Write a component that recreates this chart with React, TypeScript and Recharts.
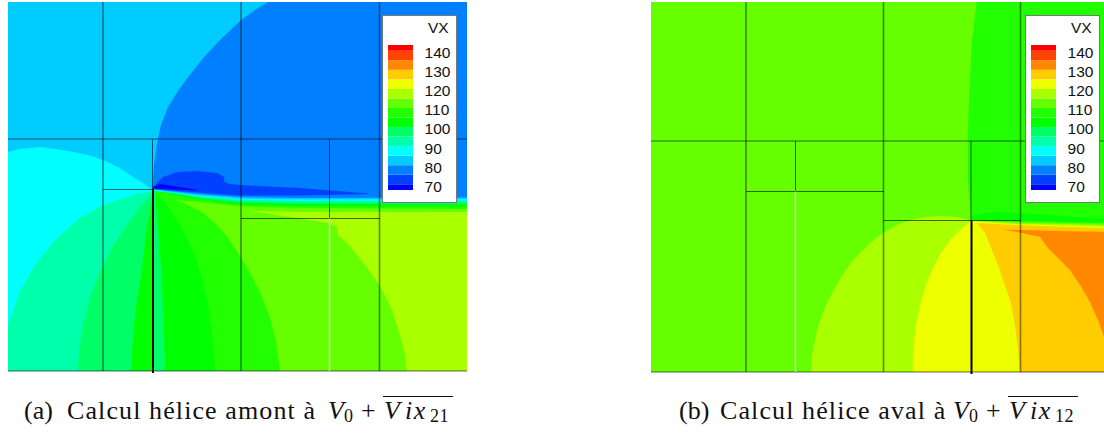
import React from "react";
import { Area, Bar, BarChart, ComposedChart, ReferenceLine, XAxis, YAxis } from "recharts";

type Row = number[]; // [x, upper contour, lower contour]

const C = {
  navy: "#0000ff", royal: "#0040ff", azure: "#0080ff", sky: "#00ccff", cyan: "#00ffff",
  aqua: "#00ffaa", mint: "#00ff66", green: "#00ff00", leaf: "#22ff00", grass: "#66ff00",
  lime: "#aaff00", yellow: "#eeff00", amber: "#ffcc00", orange: "#ff8800", vermilion: "#ff4400", red: "#ff0000",
};

// Legend
const LEVEL_COLORS = [C.navy, C.royal, C.azure, C.sky, C.cyan, C.aqua, C.mint, C.green, C.leaf, C.grass, C.lime, C.yellow, C.amber, C.orange, C.vermilion, C.red];
const LEVEL_SIZES = [71, 5, 5, 5, 5, 5, 5, 5, 5, 5, 5, 5, 5, 5, 5, 3];
const LEVEL_TICKS = [70, 80, 90, 100, 110, 120, 130, 140];

// Panel (a) contours
const A_BG: Row[] = [[8, 2, 371], [467, 2, 371]];
const A_AZURE: Row[] = [[152.7, 189, 212], [154, 165, 212], [157, 143, 212], [161, 125, 212], [168, 107, 212], [180, 88, 212], [192, 72, 212], [205, 56, 212], [220, 40, 212], [240, 21, 212], [255, 10, 212], [268, 2, 212], [467, 2, 212]];
const A_CYAN: Row[] = [[8, 152, 371], [20, 149, 371], [40, 147, 371], [56, 149, 371], [73, 152, 371], [88, 155, 371], [103, 160, 371], [118, 167, 371], [133, 177, 371], [143, 183, 371], [153, 190, 371]];
const A_AQUA: Row[] = [[8, 325, 371], [20, 292, 371], [35, 265, 371], [57, 238, 371], [80, 218, 371], [103, 205, 371], [133, 195, 371], [153, 191, 371]];
const A_MINT_L: Row[] = [[78, 371, 371], [79, 350, 371], [83, 325, 371], [90, 297, 371], [100, 272, 371], [113, 247, 371], [127, 225, 371], [140, 207, 371], [153, 193, 371]];
const A_GREEN_L: Row[] = [[131, 371, 371], [132, 350, 371], [134, 325, 371], [137, 300, 371], [141, 275, 371], [146, 235, 371], [153, 193, 371]];
const W_SKY: Row[] = [[153, 189, 371], [175, 191.5, 371], [197, 194, 371], [240, 197, 371], [300, 198, 371], [467, 197.5, 371]];
const W_CYAN: Row[] = [[153, 189.5, 371], [175, 192.5, 371], [197, 195, 371], [240, 198.7, 371], [300, 199.5, 371], [467, 199, 371]];
const W_AQUA: Row[] = [[153, 190, 371], [175, 193, 371], [197, 196, 371], [240, 200, 371], [300, 201, 371], [467, 200.7, 371]];
const W_MINT: Row[] = [[153, 190.5, 371], [175, 193.5, 371], [197, 197, 371], [240, 201.3, 371], [300, 202.5, 371], [467, 202.3, 371]];
const W_GREEN: Row[] = [[153, 191, 371], [175, 194, 371], [197, 198, 371], [240, 202.7, 371], [300, 204, 371], [467, 204, 371]];
const W_LEAF: Row[] = [[153, 191.5, 371], [175, 195, 371], [197, 199, 371], [240, 204.3, 371], [300, 206, 371], [467, 206.5, 371]];
const A_GRASS: Row[] = [[177, 200, 200], [190, 201.3, 206], [203, 202.6, 213], [215, 203.8, 223], [228, 205.1, 238], [240, 206.3, 256], [253, 206.8, 278], [262, 207, 297], [270, 207.2, 318], [276, 207.4, 342], [280, 207.5, 371], [300, 208, 371], [467, 209, 371]];
const A_LIME: Row[] = [[250, 211, 211], [290, 211.8, 217], [328, 212, 223], [337, 212, 227], [338, 212, 235], [350, 212, 246], [365, 212, 265], [380, 212, 286], [392, 212, 310], [400, 212, 335], [405, 212, 355], [406.7, 212, 371], [467, 212, 371]];
const A_GREEN_R: Row[] = [[155, 192, 192], [157, 193, 215], [158, 194.5, 225], [160, 197, 252], [162, 199.5, 285], [164, 202, 330], [165, 203, 371], [170, 210, 371], [180, 225, 371], [190, 245, 371], [197, 262, 371], [203, 283, 371], [208, 305, 371], [212, 335, 371], [215, 371, 371]];
const A_MINT_R: Row[] = [[153, 191, 371], [155, 192, 371], [157, 215, 371], [158, 225, 371], [160, 252, 371], [162, 285, 371], [164, 330, 371], [165, 371, 371]];
const A_ROYAL: Row[] = [[153, 187, 189], [163, 177, 190], [177, 172, 191], [197, 171, 192.5], [217, 173, 194], [224, 177, 194.5], [224.5, 182, 194.5], [230, 184, 195], [240, 185, 195.5], [300, 188, 195.5], [368, 193.5, 194]];
const A_NAVY: Row[] = [[153, 187, 188.5], [160, 184, 189], [173, 186, 189.5], [198, 190, 190.5]];

// Panel (b) contours
const B_BG: Row[] = [[651, 2, 372], [1104, 2, 372]];
const B_LEAF: Row[] = [[967.7, 141, 141], [968, 130, 180], [969, 100, 193], [971, 58, 220], [971.7, 43, 220.5], [976.7, 2, 221], [1104, 2, 224]];
const B_GREEN: Row[] = [[971, 216, 219.5], [993, 212, 220], [1020, 213, 220.7], [1104, 219, 222]];
const B_GRASS: Row[] = [[971, 220.5, 372], [1020, 222, 372], [1104, 223.5, 372]];
const B_LIME: Row[] = [[811, 372, 372], [812, 355, 372], [817, 330, 372], [823, 312, 372], [830, 297, 372], [841, 277, 372], [853, 260, 372], [870, 243, 372], [883, 233, 372], [897, 225, 372], [910, 220, 372], [925, 217, 372], [941.7, 216, 372], [957, 217, 372], [971, 220.5, 372], [1020, 223.3, 372], [1104, 225, 372]];
const B_YELLOW: Row[] = [[912.7, 372, 372], [913, 350, 372], [916, 325, 372], [920, 305, 372], [926, 285, 372], [933, 268, 372], [941, 253, 372], [950, 240, 372], [960, 230, 372], [971, 221, 372], [1020, 224.3, 372], [1104, 226.7, 372]];
const B_AMBER: Row[] = [[976.7, 223, 223], [985, 223.5, 233], [991, 223.8, 248], [998, 224.2, 265], [1004, 224.5, 283], [1010, 224.8, 300], [1015, 225, 325], [1018, 225.2, 350], [1020, 225.3, 372], [1104, 228.3, 372]];
const B_ORANGE: Row[] = [[1003, 229.5, 229.5], [1020, 230, 232.5], [1040, 230.5, 237], [1043, 230.6, 241], [1047, 230.7, 247], [1058, 231, 258], [1070, 231.2, 270], [1080, 231.4, 285], [1090, 231.6, 302], [1098, 231.8, 320], [1104, 232, 337]];

// Mesh block edges: [x1, y1, x2, y2]
const A_THIN: Row[] = [[8, 139, 467, 139], [152.5, 139, 152.5, 189], [103, 189.5, 153, 189.5], [329.5, 139, 329.5, 218], [241, 218.5, 380, 218.5], [8, 371, 467, 371]];
const A_WIDE: Row[] = [[103, 2, 103, 371], [241, 2, 241, 371], [379.5, 2, 379.5, 371]];
const A_GAP: Row[] = [[329.5, 218.5, 329.5, 371]];
const A_WALL: Row[] = [[153, 189, 153, 373]];
const B_THIN: Row[] = [[651, 141, 1104, 141], [795.5, 141, 795.5, 191], [746, 191.5, 884, 191.5], [971, 141, 971, 220], [883.5, 220.5, 1021, 220.5], [651, 372, 1104, 372]];
const B_WIDE: Row[] = [[746, 2, 746, 372], [883.5, 2, 883.5, 372], [1020.5, 2, 1020.5, 372]];
const B_GAP: Row[] = [[795.5, 191.5, 795.5, 372]];
const B_WALL: Row[] = [[971.5, 220, 971.5, 374]];

const PANEL_A: [Row[], string][] = [
  [A_BG, C.sky], [A_AZURE, C.azure], [A_CYAN, C.cyan], [A_AQUA, C.aqua], [A_MINT_L, C.mint], [A_GREEN_L, C.green],
  [W_SKY, C.sky], [W_CYAN, C.cyan], [W_AQUA, C.aqua], [W_MINT, C.mint], [W_GREEN, C.green], [W_LEAF, C.leaf],
  [A_GRASS, C.grass], [A_LIME, C.lime], [A_GREEN_R, C.green], [A_MINT_R, C.mint], [A_ROYAL, C.royal], [A_NAVY, C.navy],
];
const PANEL_B: [Row[], string][] = [
  [B_BG, C.grass], [B_LEAF, C.leaf], [B_GREEN, C.green], [B_GRASS, C.grass], [B_LIME, C.lime],
  [B_YELLOW, C.yellow], [B_AMBER, C.amber], [B_ORANGE, C.orange],
];

const toData = (rows: Row[]) => rows.map(([x, top, bottom]) => ({ x, band: [top, bottom] }));

function segmentLines(rows: Row[], prefix: string, stroke: string, width: number, opacity: number) {
  return rows.map(([x1, y1, x2, y2], i) => (
    <ReferenceLine
      key={prefix + i}
      segment={[{ x: x1, y: y1 }, { x: x2, y: y2 }]}
      stroke={stroke}
      strokeWidth={width}
      strokeOpacity={opacity}
    />
  ));
}

function Panel({ left, right, bands, thin, wide, gap, wall }: any) {
  const bottom = 374;
  return (
    <div style={{ position: "absolute", left, top: 2 }}>
      <ComposedChart width={right - left} height={bottom - 2} margin={{ top: 0, right: 0, bottom: 0, left: 0 }}>
        <XAxis hide type="number" dataKey="x" domain={[left, right]} allowDataOverflow />
        <YAxis hide type="number" domain={[2, bottom]} reversed allowDataOverflow />
        {bands.map(([rows, color]: [Row[], string], i: number) => (
          <Area
            key={i}
            data={toData(rows)}
            dataKey="band"
            type="linear"
            fill={color}
            fillOpacity={1}
            stroke="none"
            dot={false}
            activeDot={false}
            isAnimationActive={false}
          />
        ))}
        {segmentLines(thin, "t", "#000", 1, 0.6)}
        {segmentLines(wide, "w", "#000", 1.6, 0.45)}
        {segmentLines(gap, "g", "#c8d8c0", 1.5, 1)}
        {segmentLines(wall, "k", "#000", 2, 1)}
      </ComposedChart>
    </div>
  );
}

const levelRow = [Object.fromEntries(LEVEL_SIZES.map((v, i) => ["s" + i, v]))];

function ColorKey({ left }: { left: number }) {
  return (
    <div style={{ position: "absolute", left, top: 15, width: 75, height: 188, boxSizing: "border-box", background: "#fff", border: "1px solid #777" }}>
      <div style={{ position: "absolute", left: 45, top: 2, fontFamily: "'Liberation Sans'", fontSize: 15.5, lineHeight: "20px", color: "#111" }}>VX</div>
      <div style={{ position: "absolute", left: 5, top: 29, width: 70, height: 158, overflow: "hidden" }}>
        <BarChart width={70} height={158} data={levelRow} barCategoryGap={0} margin={{ top: 0, right: 0, bottom: 13, left: 0 }}>
          <XAxis hide type="category" />
          <YAxis
            orientation="right"
            width={45.4}
            type="number"
            domain={[68, 144]}
            allowDataOverflow
            ticks={LEVEL_TICKS}
            interval={0}
            axisLine={false}
            tickLine={false}
            tickSize={0}
            tickMargin={12}
            tick={{ fill: "#111", fontSize: 15.5, fontFamily: "'Liberation Sans'" }}
          />
          {LEVEL_SIZES.map((_, i) => (
            <Bar key={i} dataKey={"s" + i} stackId="k" fill={LEVEL_COLORS[i]} isAnimationActive={false} />
          ))}
        </BarChart>
      </div>
    </div>
  );
}

const FONT_SIZE = 26;
const place = (left: number, extra?: React.CSSProperties): React.CSSProperties => ({
  position: "absolute", left, top: 396, whiteSpace: "nowrap", fontFamily: "'Liberation Serif'", fontSize: FONT_SIZE, lineHeight: "30px", color: "#111", ...extra,
});
const SUB: React.CSSProperties = { fontSize: 18, top: 401, letterSpacing: 0.5 };

function Caption({ tag, tagX, text, textX, mathX, sub }: any) {
  return (
    <>
      <span style={place(tagX)}>{tag}</span>
      <span style={place(textX, { letterSpacing: 1.1 })}>{text}</span>
      <span style={place(mathX, { fontStyle: "italic" })}>V</span>
      <span style={place(mathX + 16, SUB)}>0</span>
      <span style={place(mathX + 33)}>+</span>
      <div style={{ position: "absolute", left: mathX + 55, top: 396, width: 70, height: 1, background: "#111" }} />
      <span style={place(mathX + 56, { fontStyle: "italic" })}>V</span>
      <span style={place(mathX + 77, { fontStyle: "italic", letterSpacing: 1.5 })}>ix</span>
      <span style={place(mathX + 102, SUB)}>{sub}</span>
    </>
  );
}

export default function App() {
  return (
    <div style={{ position: "absolute", left: 0, top: 0, width: 1104, height: 433, background: "#fff", overflow: "hidden" }}>
      <Panel left={8} right={467} bands={PANEL_A} thin={A_THIN} wide={A_WIDE} gap={A_GAP} wall={A_WALL} />
      <Panel left={651} right={1104} bands={PANEL_B} thin={B_THIN} wide={B_WIDE} gap={B_GAP} wall={B_WALL} />
      <ColorKey left={382} />
      <ColorKey left={1025} />
      <Caption tag="(a)" tagX={24} text="Calcul hélice amont à" textX={67} mathX={328} sub="21" />
      <Caption tag="(b)" tagX={679} text="Calcul hélice aval à" textX={720} mathX={953} sub="12" />
    </div>
  );
}
